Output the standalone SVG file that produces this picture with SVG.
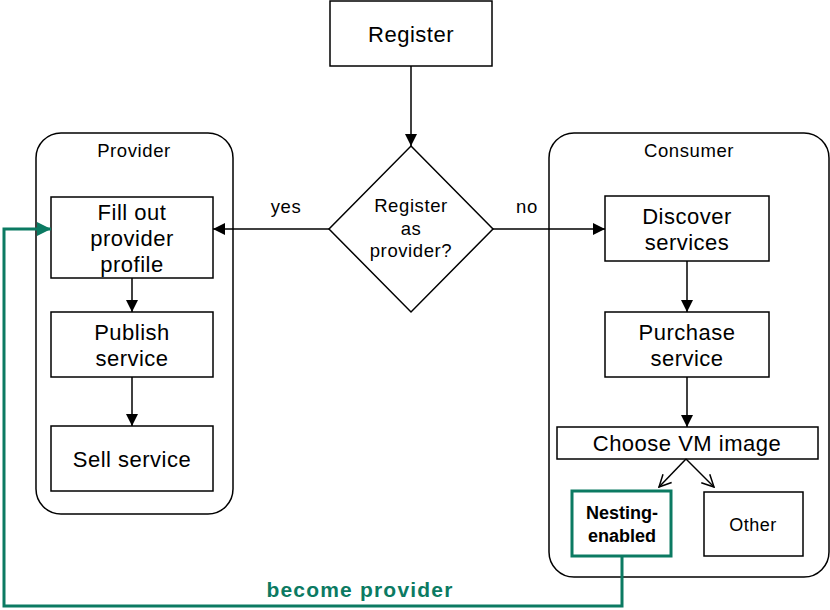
<svg xmlns="http://www.w3.org/2000/svg" width="830" height="610" viewBox="0 0 830 610">
<defs>
<style>
text{font-family:"Liberation Sans",Arial,sans-serif;fill:#000;text-anchor:middle}
.box{fill:#fff;stroke:#000;stroke-width:1.5}
.cont{fill:#fff;stroke:#000;stroke-width:1.5}
.big{font-size:22px;letter-spacing:0.5px}
.med{font-size:18.5px;letter-spacing:0.6px}
.ln{fill:none;stroke:#000;stroke-width:1.5}
.gr{fill:none;stroke:#0b7a62;stroke-width:3}
</style>
<marker id="ah" viewBox="0 0 12 12" refX="12" refY="6" markerWidth="12" markerHeight="12" markerUnits="userSpaceOnUse" orient="auto"><path d="M0,0 L12,6 L0,12 z" fill="#000"/></marker>
<marker id="oh" viewBox="0 0 14 14" refX="13" refY="7" markerWidth="14" markerHeight="14" markerUnits="userSpaceOnUse" orient="auto"><path d="M1,1 L13,7 L1,13" fill="none" stroke="#000" stroke-width="1.5"/></marker>
<marker id="gh" viewBox="0 0 14 14" refX="14" refY="7" markerWidth="14" markerHeight="14" markerUnits="userSpaceOnUse" orient="auto"><path d="M0,0 L14,7 L0,14 z" fill="#0b7a62"/></marker>
</defs>
<g id="provider-group">
<rect class="cont" x="36" y="133" width="197" height="381" rx="25"/>
<text class="med" x="134" y="157">Provider</text>
</g>
<g id="consumer-group">
<rect class="cont" x="549" y="133" width="280" height="444" rx="25"/>
<text class="med" x="689" y="157">Consumer</text>
</g>
<g id="register">
<rect class="box" x="330" y="1" width="162" height="65"/>
<text class="big" x="411" y="42">Register</text>
</g>
<g id="decision">
<polygon class="box" points="411,146 493,229 411,312 329,229"/>
<text class="med" x="411" y="212">Register</text>
<text class="med" x="411" y="235">as</text>
<text class="med" x="411" y="257">provider?</text>
</g>
<g id="fill-out">
<rect class="box" x="51" y="197" width="162" height="81"/>
<text class="big" x="132" y="220">Fill out</text>
<text class="big" x="132" y="246">provider</text>
<text class="big" x="132" y="272">profile</text>
</g>
<g id="publish">
<rect class="box" x="51" y="312" width="162" height="65"/>
<text class="big" x="132" y="340">Publish</text>
<text class="big" x="132" y="366">service</text>
</g>
<g id="sell">
<rect class="box" x="51" y="426" width="162" height="65"/>
<text class="big" x="132" y="467">Sell service</text>
</g>
<g id="discover">
<rect class="box" x="605" y="196" width="164" height="65"/>
<text class="big" x="687" y="224">Discover</text>
<text class="big" x="687" y="250">services</text>
</g>
<g id="purchase">
<rect class="box" x="605" y="312" width="164" height="65"/>
<text class="big" x="687" y="340">Purchase</text>
<text class="big" x="687" y="366">service</text>
</g>
<g id="choose">
<rect class="box" x="557" y="427" width="261" height="32"/>
<text class="big" x="687" y="451">Choose VM image</text>
</g>
<g id="nesting">
<rect x="572" y="491" width="99" height="65" fill="#fff" stroke="#0b7a62" stroke-width="3"/>
<text x="622" y="519" font-size="18" font-weight="bold">Nesting-</text>
<text x="622" y="542" font-size="18" font-weight="bold">enabled</text>
</g>
<g id="other">
<rect class="box" x="704" y="492" width="99" height="64"/>
<text x="753" y="531" font-size="18" letter-spacing="0.5">Other</text>
</g>
<g id="connectors">
<line class="ln" x1="411" y1="66" x2="411" y2="146" marker-end="url(#ah)"/>
<line class="ln" x1="329" y1="229" x2="213" y2="229" marker-end="url(#ah)"/>
<text class="med" x="286" y="213">yes</text>
<line class="ln" x1="493" y1="229" x2="605" y2="229" marker-end="url(#ah)"/>
<text class="med" x="527" y="213">no</text>
<line class="ln" x1="132" y1="278" x2="132" y2="312" marker-end="url(#ah)"/>
<line class="ln" x1="132" y1="377" x2="132" y2="426" marker-end="url(#ah)"/>
<line class="ln" x1="687" y1="261" x2="687" y2="312" marker-end="url(#ah)"/>
<line class="ln" x1="687" y1="377" x2="687" y2="427" marker-end="url(#ah)"/>
<line class="ln" x1="686" y1="459" x2="659" y2="487" marker-end="url(#oh)"/>
<line class="ln" x1="686" y1="459" x2="714" y2="487" marker-end="url(#oh)"/>
<polyline class="gr" points="622,556 622,606 4,606 4,229 51,229" marker-end="url(#gh)"/>
<text x="360" y="597" font-size="21" font-weight="bold" letter-spacing="1.2" style="fill:#0b7a62">become provider</text>
</g>
</svg>
